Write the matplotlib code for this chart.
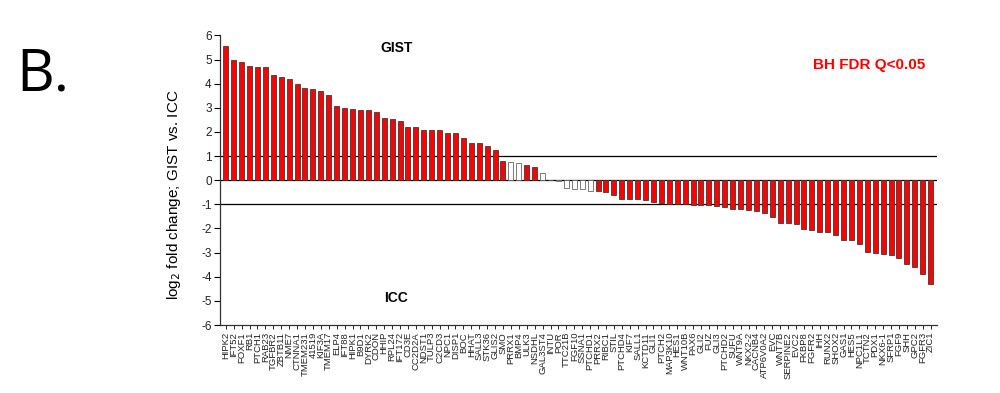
import matplotlib
matplotlib.use("Agg")
import matplotlib.pyplot as plt
import numpy as np

plt.rcParams['font.family'] = ['Liberation Sans', 'DejaVu Sans']

genes = ['HIPK2', 'IFT52', 'FOXF1', 'RB1', 'PTCH1', 'RAB23', 'TGFBR2', 'ZBTB11', 'NME7', 'CTNNA1',
         'TMEM231', '41519', 'KIF3A', 'TMEM17', 'ELP4', 'IFT88', 'HIPK1', 'B9D1', 'DYRK2', 'CDON',
         'HHIP', 'RPL24', 'IFT172', 'CD3E', 'CC2D2A', 'NDST1', 'TULP3', 'C2CD3', 'NPC1', 'DISP1',
         'BOC', 'HHAT', 'SALL3', 'STK36', 'GLIS2', 'SMO', 'PRRX1', 'BMP4', 'ULK3', 'NSDHL',
         'GAL3ST4', 'INTU', 'POR', 'TTC21B', 'FGF10', 'SSNA1', 'PTCHD1', 'PRRX2', 'RIBC1', 'STIL',
         'PTCHD4', 'KIF7', 'SALL1', 'KCTD11', 'GLI1', 'PTCH2', 'MAP3K10', 'HES1', 'WNT10B', 'PAX6',
         'GLI2', 'FUZ', 'GLI3', 'PTCHD2', 'SUFU', 'WNT9A', 'NKX2-2', 'CACNB4', 'ATP6V0A2', 'EVC',
         'WNT7B', 'SERPINE2', 'EVC2', 'FKBP8', 'FGFR2', 'IHH', 'RUNX2', 'SHOX2', 'GAS1', 'HES5',
         'NPC1L1', 'TCTN2', 'PDX1', 'NKX6-1', 'SFRP1', 'FGF9', 'SHH', 'GPC2', 'FGFR3', 'ZIC1']

log2_fc = [5.56, 4.97, 4.88, 4.75, 4.69, 4.69, 4.37, 4.26, 4.18, 3.99,
           3.81, 3.78, 3.71, 3.52, 3.07, 2.98, 2.96, 2.92, 2.92, 2.81,
           2.56, 2.52, 2.46, 2.19, 2.19, 2.10, 2.10, 2.07, 1.94, 1.94,
           1.76, 1.55, 1.55, 1.43, 1.24, 0.80, 0.77, 0.73, 0.62, 0.54,
           0.31, 0.02, -0.04, -0.31, -0.36, -0.38, -0.43, -0.43, -0.50, -0.62,
           -0.76, -0.80, -0.80, -0.83, -0.90, -0.94, -0.98, -0.98, -0.98, -1.01,
           -1.01, -1.03, -1.09, -1.13, -1.19, -1.19, -1.25, -1.27, -1.35, -1.53,
           -1.79, -1.79, -1.82, -2.04, -2.07, -2.14, -2.14, -2.29, -2.48, -2.48,
           -2.63, -2.99, -3.00, -3.06, -3.09, -3.22, -3.46, -3.58, -3.87, -4.30]

# genes not passing BH FDR Q<0.05 (drawn white)
not_significant = ['PRRX1', 'BMP4', 'GAL3ST4', 'INTU', 'POR', 'TTC21B', 'FGF10', 'SSNA1', 'PTCHD1']

y_ticks = [6, 5, 4, 3, 2, 1, 0, -1, -2, -3, -4, -5, -6]

fig = plt.figure(figsize=(10, 3.93), dpi=100)
ax = fig.add_axes([0.22, 0.173, 0.717, 0.737])

x = np.arange(len(genes))
sig = np.array([g not in not_significant for g in genes])
ax.bar(x[sig], np.array(log2_fc)[sig], width=0.63, color='#ff0000',
       edgecolor='#3a3a3a', linewidth=0.6, zorder=2)
ax.bar(x[~sig], np.array(log2_fc)[~sig], width=0.63, color='white',
       edgecolor='#666666', linewidth=0.6, zorder=2)

for yl in [1, 0, -1]:
    ax.axhline(yl, color='black', linewidth=0.9, zorder=1)

ax.set_xlim(-0.73, 89.8)
ax.set_ylim(-6, 6)
ax.set_yticks(y_ticks)
ax.set_yticklabels([str(v) for v in y_ticks], fontsize=8.5, color='#222222')
ax.set_xticks(x)
ax.set_xticklabels(genes, rotation=90, fontsize=6.8, color='#222222')
ax.tick_params(axis='y', direction='out', length=4, width=0.8, pad=2)
ax.tick_params(axis='x', direction='out', length=3, width=0.6, pad=2)

for side in ['top', 'right']:
    ax.spines[side].set_visible(False)
ax.spines['left'].set_linewidth(0.9)
ax.spines['bottom'].set_linewidth(0.9)
ax.spines['bottom'].set_color('#333333')
ax.spines['left'].set_color('#333333')

ax.set_ylabel('log$_2$ fold change; GIST vs. ICC', fontsize=11)
ax.yaxis.set_label_coords(-0.051, 0.45)

ax.text(21.5, 5.48, 'GIST', fontsize=10, fontweight='bold', ha='center', va='center')
ax.text(21.5, -4.89, 'ICC', fontsize=10, fontweight='bold', ha='center', va='center')
ax.text(81.2, 4.79, 'BH FDR Q<0.05', fontsize=11, fontweight='bold', color='#ff0000',
        ha='center', va='center')

fig.text(0.016, 0.77, 'B.', fontsize=42, family=['Open Sans', 'DejaVu Sans'],
         ha='left', va='baseline')

fig.savefig('out.png', dpi=100)
